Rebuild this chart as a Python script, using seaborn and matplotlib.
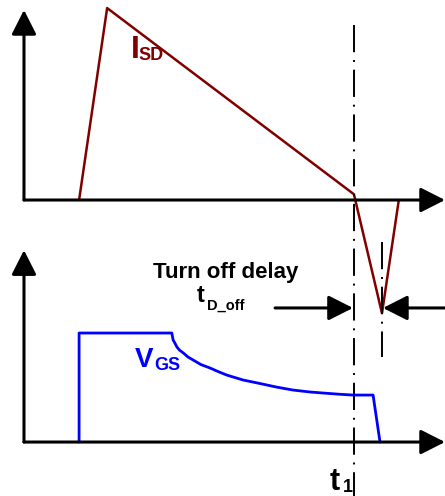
import seaborn as sns
import matplotlib
matplotlib.use("Agg")
import matplotlib.pyplot as plt
import pandas as pd

# time axis in arbitrary units, t1 = 10
t1 = 10.0
t_off = 10.85

# source-drain current (normalised to its peak)
isd_t = [1.67, 2.52, 10.0, 10.85, 11.36]
isd_v = [0.0, 1.0, 0.03, -0.59, 0.0]

# gate-source voltage (normalised to the on level)
vgs_t = [1.67, 1.67, 4.48, 4.52, 4.58, 4.63, 4.71, 4.83, 4.97, 5.13, 5.36,
         5.64, 5.88, 6.14, 6.39, 6.64, 7.15, 7.64, 8.15, 8.67, 9.18, 9.58,
         9.97, 10.58, 10.79]
vgs_v = [0.0, 1.0, 1.0, 0.936, 0.904, 0.874, 0.844, 0.817, 0.780, 0.752,
         0.711, 0.679, 0.647, 0.615, 0.592, 0.569, 0.537, 0.505, 0.477,
         0.459, 0.447, 0.438, 0.431, 0.431, 0.0]

isd_color = "#800000"
vgs_color = "#0000ff"

sns.set_style("white")
plt.rcParams["font.family"] = ["Liberation Sans", "DejaVu Sans"]
plt.rcParams["font.weight"] = "bold"
plt.rcParams["text.color"] = "black"

fig = plt.figure(figsize=(4.45, 4.96), dpi=100)
# both panels span the whole canvas, only their y scales differ
ax_top = fig.add_axes([0, 0, 1, 1])
ax_bot = fig.add_axes([0, 0, 1, 1])
for ax in (ax_top, ax_bot):
    ax.set_xlim(-0.727, 12.76)
    ax.axis("off")
    ax.patch.set_alpha(0)
ax_top.set_ylim(-1.542, 1.042)
ax_bot.set_ylim(-0.495, 4.055)

x_end = 12.76
head = dict(arrowstyle="-|>,head_length=0.75,head_width=0.38",
            color="black", lw=2.2, shrinkA=0, shrinkB=0, mutation_scale=20)


def axis_arrows(ax, y_top):
    ax.annotate("", xy=(0, y_top), xytext=(0, 0), arrowprops=head)
    ax.annotate("", xy=(x_end, 0), xytext=(0, 0), arrowprops=head)


axis_arrows(ax_top, 0.99)
axis_arrows(ax_bot, 1.76)

# waveforms
isd = pd.DataFrame({"t": isd_t, "v": isd_v})
vgs = pd.DataFrame({"t": vgs_t, "v": vgs_v})
sns.lineplot(data=isd, x="t", y="v", sort=False, estimator=None,
             color=isd_color, lw=1.8, ax=ax_top)
sns.lineplot(data=vgs, x="t", y="v", sort=False, estimator=None,
             color=vgs_color, lw=2.0, ax=ax_bot)

# dash-dot markers at t1 and at the end of the delay
dashdot = (0, (14, 4, 1, 4))
ax_top.plot([t1, t1], [0.911, -1.6], color="black", lw=1.4, ls=dashdot)
ax_top.plot([t_off, t_off], [-0.219, -0.818], color="black", lw=1.4,
            ls=dashdot)

# delay arrows
y_arr = 1.23
ax_bot.annotate("", xy=(t1 - 0.03, y_arr), xytext=(7.61, y_arr),
                arrowprops=head)
ax_bot.annotate("", xy=(t_off + 0.03, y_arr), xytext=(x_end, y_arr),
                arrowprops=head)

# labels
ax_top.text(3.24, 0.74, "I", fontsize=23, color=isd_color,
            fontweight="bold", va="baseline")
ax_top.text(3.48, 0.729, "SD", fontsize=13, color=isd_color,
            fontweight="bold", va="baseline")
ax_bot.text(3.36, 0.688, "V", fontsize=20, color=vgs_color,
            fontweight="bold", va="baseline")
ax_bot.text(3.94, 0.661, "GS", fontsize=13, color=vgs_color,
            fontweight="bold", va="baseline")
ax_bot.text(6.12, 1.505, "Turn off delay", fontsize=16, fontweight="bold",
            ha="center", va="baseline")
ax_bot.text(5.24, 1.284, "t", fontsize=17, fontweight="bold",
            va="baseline")
ax_bot.text(5.55, 1.211, "D_off", fontsize=10.5, fontweight="bold",
            va="baseline")
ax_bot.text(9.27, -0.44, "t", fontsize=22, fontweight="bold",
            va="baseline")
ax_bot.text(9.67, -0.46, "1", fontsize=13, fontweight="bold",
            va="baseline")

fig.savefig("out.png", dpi=100)
plt.close(fig)
